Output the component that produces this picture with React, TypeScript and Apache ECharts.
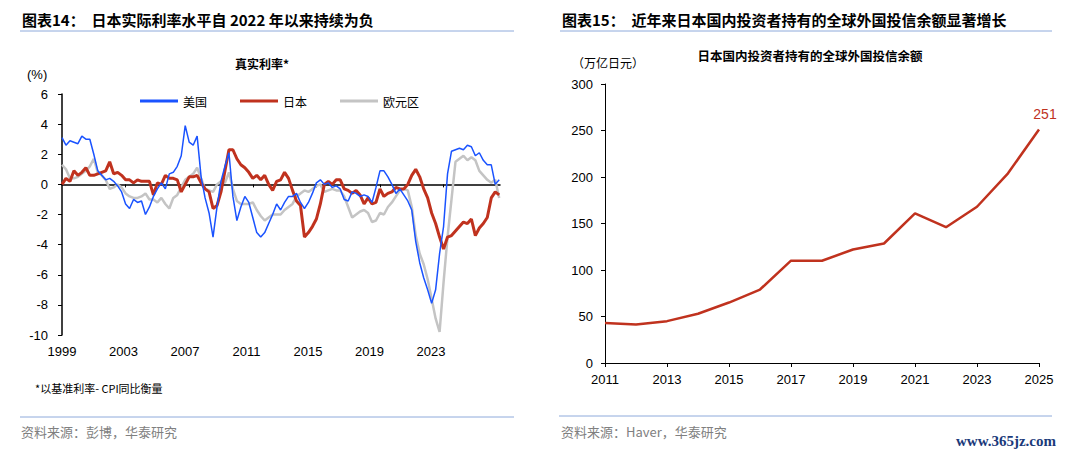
import React, { useEffect, useRef } from "react";
import * as echarts from "echarts";

// ---------- Left chart: real policy rates (%), quarterly samples ----------
const RATE_START = 1999;
const RATE_STEP = 0.25;
const usRate = [
  3.1, 2.6, 2.9, 2.8, 2.7, 3.2, 3.0, 3.0, 2.0, 0.9,
  0.6, 0.3, 0.4, 0.2, -0.1, -0.5, -1.3, -1.6, -1.0, -1.2,
  -1.1, -2.0, -1.5, -0.8, -0.3, 0.1, -0.3, 0.7, 0.8, 1.2,
  1.9, 3.9, 2.8, 2.6, 3.2, 0.5, -0.9, -1.9, -3.5, -1.5,
  0.2, 1.2, 2.1, -0.8, -2.4, -1.5, -0.8, -1.2, -2.2, -3.2,
  -3.5, -3.2, -2.6, -2.0, -1.3, -1.7, -1.2, -0.8, -0.8, -0.6,
  -1.2, -1.6, -1.2, -0.6, 0.1, 0.3, 0.0, 0.1, -0.2, -0.1,
  -0.3, -1.0, -1.1, -0.5, -0.6, -0.8, -0.7, -0.8, -1.2, -0.2,
  0.9, 0.9, 0.5, 0.0, -0.6, -0.3, -0.7, -1.1, -1.7, -3.8,
  -5.2, -6.2, -7.0, -7.9, -7.0, -4.6, -2.8, 0.7, 2.2, 2.3,
  2.4, 2.3, 2.6, 2.5, 1.9, 2.1, 1.6, 1.3, 1.3, 0.0,
  0.3,
];
const jpRate = [
  0.0, 0.4, 0.2, 0.9, 0.6, 0.8, 1.1, 0.6, 0.6, 0.7,
  0.8, 0.9, 1.5, 0.7, 0.8, 0.6, 0.3, 0.3, 0.1, 0.3,
  0.2, 0.2, 0.2, -0.7, 0.1, 0.0, 0.6, 0.4, 0.4, 0.3,
  -0.5, 0.0, 0.5, 0.5, 0.6, 0.1, -0.3, -0.5, -1.6, -1.4,
  -0.5, 0.9, 2.3, 2.3, 1.7, 1.3, 1.1, 0.8, 0.4, 0.6,
  0.3, 0.6, 0.0, -0.4, 0.2, 0.3, 0.8, 0.4, -0.4, -1.1,
  -1.4, -3.5, -3.2, -2.8, -2.3, -1.3, 0.0, 0.2, 0.0, 0.3,
  0.3, -0.3, -0.4, -0.6, -0.4, -0.7, -1.3, -0.9, -1.3, -1.2,
  -0.3, -0.8, -0.6, -0.5, -0.2, -0.3, -0.3, 0.0, 0.6, 1.0,
  0.5, -0.3, -0.9, -1.9, -2.6, -3.5, -4.3, -3.5, -3.4, -3.1,
  -2.8, -2.5, -2.6, -2.3, -3.4, -2.9, -2.6, -2.2, -0.9, -0.5,
  -0.7,
];
const euRate = [
  1.3, 1.0, 0.4, 0.4, 0.5, 0.7, 0.9, 1.2, 1.7, 0.8,
  0.6, 0.3, -0.3, -0.2, 0.0, -0.2, -0.6, -0.8, -0.9, -0.9,
  -0.8, -0.6, -1.0, -1.0, -1.2, -0.9, -1.3, -1.6, -0.9, -0.7,
  -0.2, 0.3, 0.5, 0.7, 1.1, 0.4, -0.3, -0.4, -0.5, 0.0,
  0.2, 0.1, 0.8, -0.3, -1.1, -1.3, -1.3, -1.3, -1.2, -1.7,
  -2.1, -2.4, -2.2, -2.0, -2.0, -2.0, -1.7, -1.5, -1.3, -0.8,
  -0.6, -0.4, -0.5, -0.3, -0.1, 0.0, -0.5, -0.4, -0.3, -0.4,
  -0.4, -0.8, -1.5, -2.2, -2.0, -1.8, -1.7, -1.9, -2.5, -2.4,
  -1.9, -2.0, -1.5, -1.2, -0.8, -0.4, -0.3, -0.4, -1.5, -3.4,
  -4.6, -5.3, -6.3, -7.6, -8.9, -9.8, -6.5, -3.5, -1.0, 1.5,
  1.7, 1.9, 1.6, 1.8, 1.6, 0.9, 0.6, 0.3, 0.1, 0.3,
  -0.9,
];
const rateLabelYears = [1999, 2003, 2007, 2011, 2015, 2019, 2023];
const rateTickYears = [2003, 2007, 2011, 2015, 2019, 2023];
const rateSeriesNames = ["美国", "日本", "欧元区"];

// ---------- Right chart: foreign investment trust balance (trillion yen) ----------
const fundYears = [
  "2011", "2012", "2013", "2014", "2015", "2016", "2017", "2018",
  "2019", "2020", "2021", "2022", "2023", "2024", "2025",
];
const fundValues = [43, 41.5, 45, 53, 65, 79, 110, 110, 122, 128.5, 161, 146, 168, 204, 251];

const CJK = '"Noto Sans CJK SC", "Noto Sans", sans-serif';
const NUM = '"Liberation Sans", Arial, sans-serif';
const RED = "#C0321E";
const BLUE = "#1A53FF";
const GRAY = "#C4C4C4";
const RULE = "#8EAADB";

export default function App() {
  const ref = useRef<HTMLDivElement>(null);

  useEffect(() => {
    if (!ref.current) return;
    const chart = echarts.init(ref.current, null, { renderer: "svg", width: 1080, height: 455 });

    const toPairs = (arr: number[]) => arr.map((v, i) => [RATE_START + i * RATE_STEP, v]);
    const legendColors = [BLUE, RED, GRAY];

    const option: any = {
      animation: false,
      backgroundColor: "#ffffff",
      textStyle: { fontFamily: NUM },
      grid: [
        { left: 62, top: 94, width: 438, height: 241 },
        { left: 605, top: 84, width: 434, height: 279 },
      ],
      legend: {
        data: rateSeriesNames.map((n, i) => ({
          name: n,
          icon: "rect",
          itemStyle: { color: legendColors[i] },
        })),
        left: 135,
        top: 90,
        itemWidth: 38,
        itemHeight: 3,
        itemGap: 33,
        textStyle: { fontSize: 12, color: "#000", fontFamily: CJK, padding: [0, 0, 0, 0] },
      },
      xAxis: [
        {
          gridIndex: 0,
          type: "value",
          position: "bottom",
          min: 1999,
          max: 2027.49,
          axisLine: { show: false, onZero: false },
          axisTick: { show: false },
          splitLine: { show: false },
          axisLabel: {
            customValues: rateLabelYears,
            formatter: (v: number) => String(Math.round(v)),
            margin: 10,
            fontSize: 13,
            color: "#000",
            fontFamily: NUM,
          },
        },
        {
          gridIndex: 0,
          type: "value",
          position: "bottom",
          min: 1999,
          max: 2026.55,
          axisLine: { show: true, onZero: true, lineStyle: { color: "#000", width: 1.5 } },
          axisTick: { show: true, customValues: rateTickYears, length: 3, lineStyle: { color: "#000" } },
          axisLabel: { show: false },
          splitLine: { show: false },
        },
        {
          gridIndex: 1,
          type: "category",
          data: fundYears,
          boundaryGap: false,
          axisLine: { show: true, onZero: false, lineStyle: { color: "#000", width: 1 } },
          axisTick: { show: true, interval: 1, length: 4, lineStyle: { color: "#000" } },
          axisLabel: { interval: 1, margin: 10, fontSize: 13, color: "#000", fontFamily: NUM },
          splitLine: { show: false },
        },
      ],
      yAxis: [
        {
          gridIndex: 0,
          type: "value",
          min: -10,
          max: 6,
          interval: 2,
          axisLine: { show: true, onZero: false, lineStyle: { color: "#000", width: 1.5 } },
          axisTick: { show: true, length: 4, lineStyle: { color: "#000" } },
          axisLabel: { margin: 14, fontSize: 13, color: "#000", fontFamily: NUM },
          splitLine: { show: false },
        },
        {
          gridIndex: 1,
          type: "value",
          min: 0,
          max: 300,
          interval: 50,
          axisLine: { show: true, onZero: false, lineStyle: { color: "#000", width: 1 } },
          axisTick: { show: true, length: 4, lineStyle: { color: "#000" } },
          axisLabel: { margin: 12, fontSize: 13, color: "#000", fontFamily: NUM },
          splitLine: { show: false },
        },
      ],
      series: [
        {
          name: rateSeriesNames[0],
          type: "line",
          xAxisIndex: 1,
          yAxisIndex: 0,
          data: toPairs(usRate),
          symbol: "none",
          z: 4,
          lineStyle: { color: BLUE, width: 1.5 },
          itemStyle: { color: BLUE },
        },
        {
          name: rateSeriesNames[1],
          type: "line",
          xAxisIndex: 1,
          yAxisIndex: 0,
          data: toPairs(jpRate),
          symbol: "none",
          z: 3,
          lineStyle: { color: RED, width: 3 },
          itemStyle: { color: RED },
        },
        {
          name: rateSeriesNames[2],
          type: "line",
          xAxisIndex: 1,
          yAxisIndex: 0,
          data: toPairs(euRate),
          symbol: "none",
          z: 2,
          lineStyle: { color: GRAY, width: 2.5 },
          itemStyle: { color: GRAY },
        },
        {
          name: "外国投信余额",
          type: "line",
          xAxisIndex: 2,
          yAxisIndex: 1,
          symbol: "none",
          lineStyle: { color: RED, width: 2.5 },
          itemStyle: { color: RED },
          data: fundValues,
          markPoint: {
            symbol: "circle",
            symbolSize: 1,
            itemStyle: { color: "rgba(0,0,0,0)" },
            data: [{ type: "max" }],
            label: {
              show: true,
              position: "top",
              distance: 8,
              offset: [6, 0],
              color: RED,
              fontSize: 14,
              fontFamily: NUM,
              formatter: (p: any) => String(p.value),
            },
          },
        },
      ],
      graphic: [
        // headers
        {
          type: "text",
          x: 22,
          y: 19,
          style: {
            text: "图表14：  日本实际利率水平自 2022 年以来持续为负",
            fill: "#000",
            fontSize: 15,
            fontWeight: "bold",
            fontFamily: CJK,
            verticalAlign: "middle",
          },
        },
        { type: "line", shape: { x1: 20, y1: 31, x2: 514, y2: 31 }, style: { stroke: RULE, lineWidth: 1 } },
        {
          type: "text",
          x: 562,
          y: 19,
          style: {
            text: "图表15：  近年来日本国内投资者持有的全球外国投信余额显著增长",
            fill: "#000",
            fontSize: 15,
            fontWeight: "bold",
            fontFamily: CJK,
            verticalAlign: "middle",
          },
        },
        { type: "line", shape: { x1: 560, y1: 31, x2: 1052, y2: 31 }, style: { stroke: RULE, lineWidth: 1 } },
        // left chart labels
        {
          type: "text",
          x: 262,
          y: 63,
          style: {
            text: "真实利率*",
            fill: "#000",
            fontSize: 12,
            fontWeight: "bold",
            fontFamily: CJK,
            align: "center",
            verticalAlign: "middle",
          },
        },
        {
          type: "text",
          x: 27,
          y: 74,
          style: { text: "(%)", fill: "#000", fontSize: 13, fontFamily: NUM, verticalAlign: "middle" },
        },
        {
          type: "text",
          x: 35,
          y: 388,
          style: {
            text: "*以基准利率- CPI同比衡量",
            fill: "#000",
            fontSize: 11,
            fontFamily: CJK,
            verticalAlign: "middle",
          },
        },
        // right chart labels
        {
          type: "text",
          x: 572,
          y: 62,
          style: { text: "（万亿日元）", fill: "#000", fontSize: 12, fontFamily: CJK, verticalAlign: "middle" },
        },
        {
          type: "text",
          x: 810,
          y: 55,
          style: {
            text: "日本国内投资者持有的全球外国投信余额",
            fill: "#000",
            fontSize: 12.5,
            fontWeight: "bold",
            fontFamily: CJK,
            align: "center",
            verticalAlign: "middle",
          },
        },
        // footers
        { type: "line", shape: { x1: 20, y1: 417, x2: 514, y2: 417 }, style: { stroke: RULE, lineWidth: 1 } },
        {
          type: "text",
          x: 21,
          y: 431,
          style: { text: "资料来源：彭博，华泰研究", fill: "#808080", fontSize: 13, fontFamily: CJK, verticalAlign: "middle" },
        },
        { type: "line", shape: { x1: 559, y1: 416, x2: 1052, y2: 416 }, style: { stroke: RULE, lineWidth: 1 } },
        {
          type: "text",
          x: 561,
          y: 431,
          style: { text: "资料来源：Haver，华泰研究", fill: "#808080", fontSize: 13, fontFamily: CJK, verticalAlign: "middle" },
        },
        {
          type: "text",
          x: 1056,
          y: 441,
          style: {
            text: "www.365jz.com",
            fill: "#1B3A7A",
            fontSize: 15,
            fontWeight: "bold",
            fontFamily: '"Liberation Serif", "DejaVu Serif", serif',
            align: "right",
            verticalAlign: "middle",
          },
        },
      ],
    };

    chart.setOption(option);
    return () => chart.dispose();
  }, []);

  return (
    <div
      ref={ref}
      style={{ position: "fixed", left: 0, top: 0, width: 1080, height: 455, background: "#fff" }}
    />
  );
}
